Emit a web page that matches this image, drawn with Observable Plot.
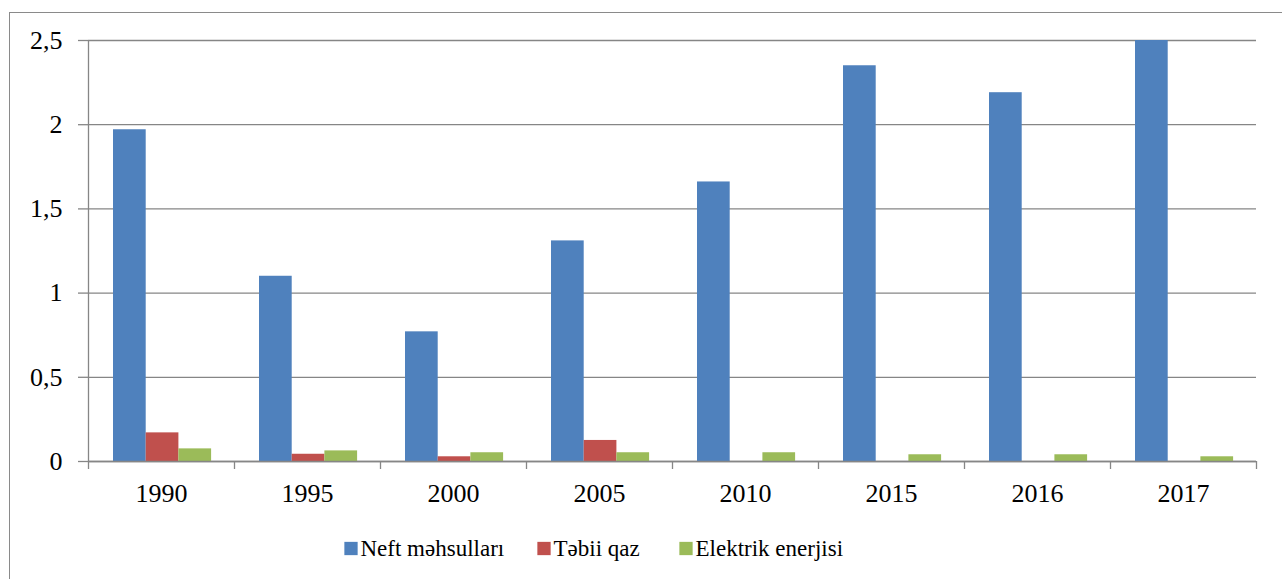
<!DOCTYPE html>
<html>
<head>
<meta charset="utf-8">
<script src="https://cdn.jsdelivr.net/npm/d3@7"></script>
<script src="https://cdn.jsdelivr.net/npm/@observablehq/plot@0.6"></script>
<style>
  html, body { margin: 0; padding: 0; background: #fff; width: 1282px; height: 579px; overflow: hidden; font-family: "Liberation Serif", serif; }
  #frame { position: absolute; left: 9px; top: 12px; width: 1300px; height: 620px; border: 1.5px solid #8a8a8a; box-sizing: border-box; }
  #chart { position: absolute; left: 0; top: 0; }
  #legend { position: absolute; left: 0; top: 530px; }
</style>
</head>
<body>
<div id="frame"></div>
<div id="chart"></div>
<div id="legend"></div>
<script>
const years = ["1990", "1995", "2000", "2005", "2010", "2015", "2016", "2017"];
const series = ["Neft məhsulları", "Təbii qaz", "Elektrik enerjisi"];
const neft = [1.97, 1.10, 0.77, 1.31, 1.66, 2.35, 2.19, 2.50];
const qaz = [0.17, 0.043, 0.028, 0.125, 0, 0, 0, 0];
const elektrik = [0.075, 0.063, 0.052, 0.052, 0.052, 0.04, 0.04, 0.028];
const colors = ["#4F81BD", "#C0504D", "#9BBB59"];
const yTicks = [0, 0.5, 1, 1.5, 2, 2.5];

const values = [neft, qaz, elektrik];
const rows = years.flatMap((yr, i) => series.map((s, k) => ({year: yr, i, k, series: s, value: values[k][i]})));

const groupStart = 25 / 146;
const barW = 32.7 / 146;
const grey = "#868686";

const plot = Plot.plot({
  width: 1282,
  height: 520,
  marginLeft: 88,
  marginRight: 26,
  marginTop: 40,
  marginBottom: 59,
  style: {fontFamily: "Liberation Serif", fontSize: "26px", color: "#000", background: "transparent"},
  x: {type: "linear", domain: [0, years.length]},
  y: {domain: [0, 2.5]},
  color: {domain: series, range: colors},
  marks: [
    Plot.gridY({ticks: yTicks, stroke: grey, strokeOpacity: 1, strokeWidth: 1.3}),
    Plot.rectY(rows, {
      x1: d => d.i + groupStart + d.k * barW,
      x2: d => d.i + groupStart + (d.k + 1) * barW,
      y: "value",
      fill: "series"
    }),
    Plot.ruleY([0], {stroke: grey, strokeWidth: 1.3}),
    Plot.ruleX([0], {stroke: grey, strokeWidth: 1.3}),
    Plot.axisY({ticks: yTicks, tickSize: 10, tickPadding: 16, stroke: grey, strokeWidth: 1.3,
      tickFormat: d => String(d).replace(".", ","), label: null}),
    Plot.axisX({ticks: d3.range(0, years.length + 1), tickSize: 8, stroke: grey, strokeWidth: 1.3,
      tickFormat: () => "", label: null}),
    Plot.axisX({ticks: years.map((_, i) => i + 0.5), tickSize: 0, tickPadding: 22,
      tickFormat: t => years[Math.floor(t)], label: null})
  ]
});
document.getElementById("chart").appendChild(plot);

// Legend as a small Plot below the chart
const lefts = [344, 537, 679];
const legendPlot = Plot.plot({
  width: 1282,
  height: 36,
  margin: 0,
  style: {fontFamily: "Liberation Serif", fontSize: "23px", color: "#000", background: "transparent"},
  marks: series.flatMap((s, k) => [
    Plot.dot([s], {frameAnchor: "left", dx: lefts[k] + 6.5, symbol: "square", r: 7.5, fill: colors[k], stroke: "none"}),
    Plot.text([s], {frameAnchor: "left", dx: lefts[k] + 16, text: d => d, textAnchor: "start", fill: "#000"})
  ])
});
document.getElementById("legend").appendChild(legendPlot);
</script>
</body>
</html>
